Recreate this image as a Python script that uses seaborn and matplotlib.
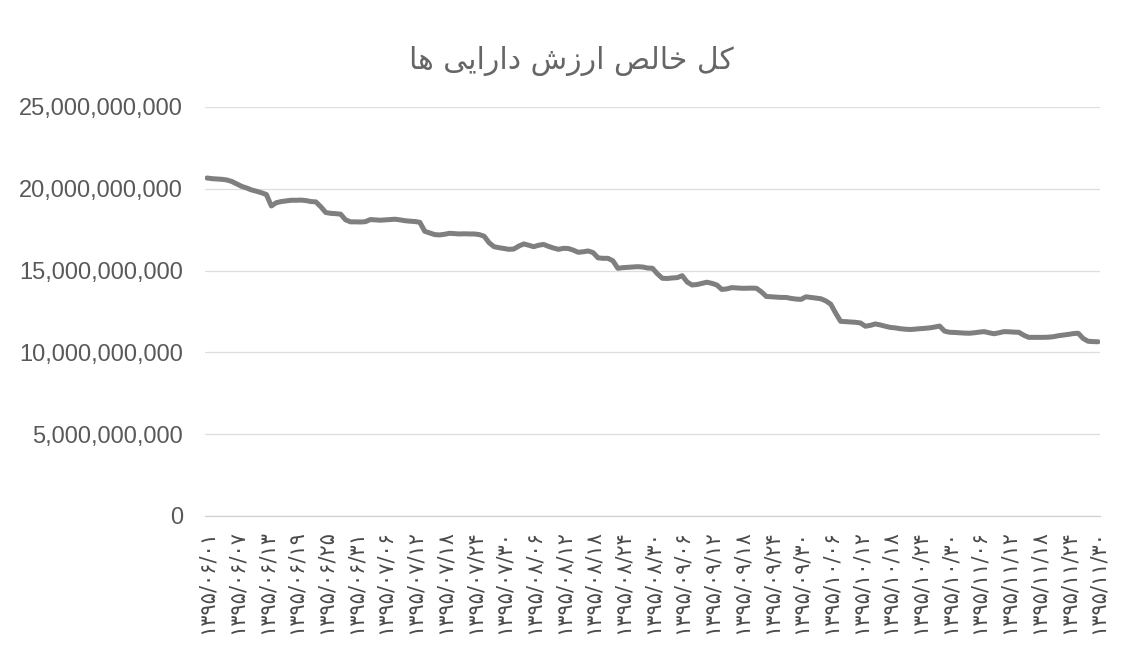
import matplotlib
matplotlib.use("Agg")
import matplotlib.pyplot as plt
import seaborn as sns
import pandas as pd
import numpy as np

# ---------------- data ----------------
title_fa = "کل خالص ارزش دارایی ها"

# daily net asset value (billion rials), 1395/06/01 .. 1395/11/30 (181 days)
nav_billion = [
    20.66, 20.62, 20.60, 20.58, 20.54, 20.45, 20.30, 20.15, 20.05, 19.93,
    19.85, 19.76, 19.65, 18.95, 19.15, 19.22, 19.26, 19.30, 19.30, 19.31,
    19.28, 19.22, 19.20, 18.90, 18.55, 18.50, 18.48, 18.45, 18.10, 17.98,
    17.98, 17.97, 17.99, 18.12, 18.10, 18.08, 18.10, 18.12, 18.14, 18.10,
    18.05, 18.02, 18.00, 17.95, 17.40, 17.30, 17.20, 17.18, 17.22, 17.28,
    17.26, 17.24, 17.25, 17.24, 17.24, 17.20, 17.10, 16.70, 16.46, 16.40,
    16.35, 16.30, 16.32, 16.50, 16.63, 16.55, 16.46, 16.55, 16.60, 16.48,
    16.38, 16.30, 16.36, 16.35, 16.25, 16.12, 16.15, 16.20, 16.10, 15.78,
    15.75, 15.75, 15.60, 15.14, 15.18, 15.20, 15.22, 15.24, 15.22, 15.16,
    15.14, 14.80, 14.53, 14.52, 14.55, 14.57, 14.69, 14.30, 14.12, 14.15,
    14.22, 14.29, 14.22, 14.12, 13.85, 13.88, 13.96, 13.94, 13.92, 13.92,
    13.93, 13.92, 13.70, 13.42, 13.40, 13.38, 13.36, 13.36, 13.30, 13.26,
    13.24, 13.40, 13.36, 13.32, 13.28, 13.15, 12.95, 12.40, 11.90, 11.88,
    11.86, 11.84, 11.80, 11.60, 11.65, 11.74, 11.68, 11.60, 11.53, 11.50,
    11.45, 11.42, 11.40, 11.42, 11.45, 11.47, 11.50, 11.55, 11.61, 11.30,
    11.23, 11.22, 11.20, 11.18, 11.17, 11.20, 11.24, 11.27, 11.20, 11.14,
    11.20, 11.27, 11.26, 11.24, 11.23, 11.05, 10.92, 10.92, 10.92, 10.92,
    10.93, 10.96, 11.02, 11.06, 11.10, 11.15, 11.17, 10.85, 10.68, 10.66,
    10.65,
]

tick_days = list(range(0, 181, 6))
tick_dates = [
    "1395/06/01", "1395/06/07", "1395/06/13", "1395/06/19", "1395/06/25",
    "1395/06/31", "1395/07/06", "1395/07/12", "1395/07/18", "1395/07/24",
    "1395/07/30", "1395/08/06", "1395/08/12", "1395/08/18", "1395/08/24",
    "1395/08/30", "1395/09/06", "1395/09/12", "1395/09/18", "1395/09/24",
    "1395/09/30", "1395/10/06", "1395/10/12", "1395/10/18", "1395/10/24",
    "1395/10/30", "1395/11/06", "1395/11/12", "1395/11/18", "1395/11/24",
    "1395/11/30",
]
y_ticks = [0, 5e9, 10e9, 15e9, 20e9, 25e9]

# ---------------- helpers ----------------
fa_digits = str.maketrans("0123456789", "۰۱۲۳۴۵۶۷۸۹")
tick_labels_fa = [d.translate(fa_digits) for d in tick_dates]

FORMS = {  # isolated, final, initial, medial
    'ا': ('\uFE8D', '\uFE8E', None, None),
    'خ': ('\uFEA5', '\uFEA6', '\uFEA7', '\uFEA8'),
    'د': ('\uFEA9', '\uFEAA', None, None),
    'ر': ('\uFEAD', '\uFEAE', None, None),
    'ز': ('\uFEAF', '\uFEB0', None, None),
    'ش': ('\uFEB5', '\uFEB6', '\uFEB7', '\uFEB8'),
    'ص': ('\uFEB9', '\uFEBA', '\uFEBB', '\uFEBC'),
    'ک': ('\uFB8E', '\uFB8F', '\uFB90', '\uFB91'),
    'ل': ('\uFEDD', '\uFEDE', '\uFEDF', '\uFEE0'),
    'ه': ('\uFEE9', '\uFEEA', '\uFEEB', '\uFEEC'),
    'ی': ('\uFBFC', '\uFBFD', '\uFBFE', '\uFBFF'),
}


def shape_rtl(s):
    out = []
    for i, c in enumerate(s):
        if c not in FORMS:
            out.append(c)
            continue
        prev = s[i - 1] if i > 0 else None
        nxt = s[i + 1] if i + 1 < len(s) else None
        jp = prev in FORMS and FORMS[prev][2] is not None
        jn = FORMS[c][2] is not None and nxt in FORMS
        iso, fin, ini, med = FORMS[c]
        if jp and jn:
            out.append(med)
        elif jp:
            out.append(fin)
        elif jn:
            out.append(ini)
        else:
            out.append(iso)
    return "".join(out)[::-1]


df = pd.DataFrame({"day": np.arange(len(nav_billion)),
                   "nav": np.array(nav_billion) * 1e9})

# ---------------- plot ----------------
sns.set_theme(style="white")
plt.rcParams['font.family'] = ['Liberation Sans', 'DejaVu Sans']

fig = plt.figure(figsize=(11.25, 6.6), dpi=100)
ax = fig.add_axes([205 / 1125, 144 / 660, 895 / 1125, 409 / 660])

sns.lineplot(data=df, x="day", y="nav", ax=ax, color="#7f7f7f",
             linewidth=3.6, solid_joinstyle="round", solid_capstyle="round")

ax.set_xlim(-0.4, 180.4)
ax.set_ylim(0, 25e9)
ax.set_yticks(y_ticks)
ax.set_yticklabels([f"{int(v):,}" for v in y_ticks])
ax.set_xticks(tick_days)
ax.set_xticklabels(tick_labels_fa, rotation=90, family=['DejaVu Sans'],
                   fontsize=15, color="#4a4a4a")
ax.tick_params(axis="y", labelsize=17, labelcolor="#595959", length=0, pad=16)
ax.tick_params(axis="x", length=0, pad=10)
ax.set_xlabel("")
ax.set_ylabel("")

ax.grid(axis="y", color="#dedede", linewidth=0.9)
ax.grid(axis="x", visible=False)
for side in ["top", "right", "left"]:
    ax.spines[side].set_visible(False)
ax.spines["bottom"].set_color("#d0d0d0")
ax.spines["bottom"].set_linewidth(0.9)

fig.text(0.508, 0.908, shape_rtl(title_fa), ha="center", va="center",
         fontsize=21.5, color="#666666", family=['DejaVu Sans'])

fig.savefig("out.png", dpi=100)
